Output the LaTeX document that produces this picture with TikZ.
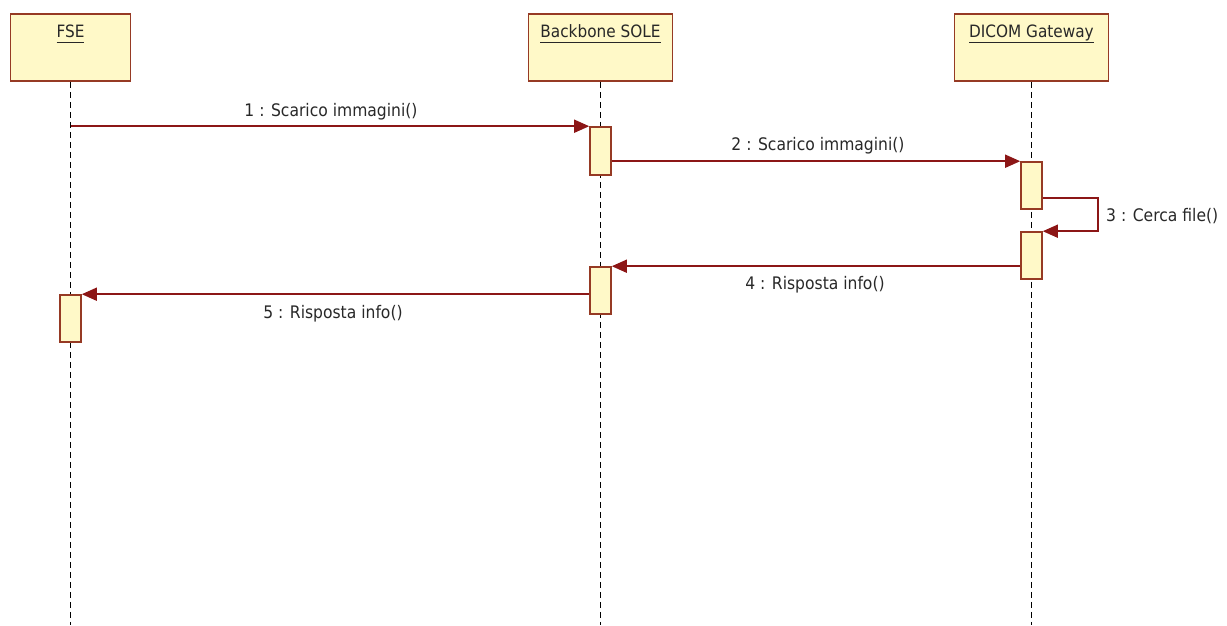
\documentclass[tikz,border=0pt]{standalone}
\usepackage{fontspec}
\setmainfont{DejaVu Sans Condensed}
\usetikzlibrary{arrows.meta}
\definecolor{boxborder}{RGB}{150,58,36}
\definecolor{boxfill}{RGB}{255,249,200}
\definecolor{msgcol}{RGB}{140,22,22}
\definecolor{txtcol}{RGB}{40,40,40}
\tikzset{
  head/.style={draw=boxborder, fill=boxfill, line width=1.7pt, minimum height=67pt, inner sep=0pt},
  headtext/.style={text=txtcol, font=\fontsize{17}{20}\selectfont, inner sep=0pt, text height=13pt, text depth=5pt},
  actbox/.style={draw=boxborder, fill=boxfill, line width=1.6pt, minimum width=21pt, minimum height=47pt, inner sep=0pt},
  lifeline/.style={draw=black, line width=1.5pt, dash pattern=on 6pt off 4pt},
  msg/.style={draw=msgcol, line width=1.6pt, -{Triangle[length=15pt,width=13pt]}},
  msglabel/.style={text=txtcol, font=\fontsize{17.3}{20}\selectfont, inner sep=0pt}
}
\newcommand{\ul}[1]{\underline{\smash{#1}\vphantom{Ag}}}
\begin{document}
\begin{tikzpicture}[x=1pt,y=-1pt]
\useasboundingbox (0,0) rectangle (1227,625);
% heads
\node[head, minimum width=120pt] (fse) at (70.5,47.5) {};
\node[head, minimum width=144pt] (sole) at (600.5,47.5) {};
\node[head, minimum width=154pt] (dicom) at (1031.5,47.5) {};
\node[headtext] (fseT) at ([yshift=-20pt]fse.north) {\ul{FSE}};
\node[headtext] (soleT) at ([yshift=-20pt]sole.north) {\ul{Backbone SOLE}};
\node[headtext] (dicomT) at ([yshift=-20pt]dicom.north) {\ul{DICOM Gateway}};
% lifeline ends
\coordinate (fseE) at (70.5,625);
\coordinate (soleE) at (600.5,625);
\coordinate (dicomE) at (1031.5,625);
\draw[lifeline] (fse.south) -- (fseE);
\draw[lifeline] (sole.south) -- (soleE);
\draw[lifeline] (dicom.south) -- (dicomE);
% activations
\node[actbox, minimum height=48pt] (b1) at (600.5,151) {};
\node[actbox] (d1) at (1031.5,185.5) {};
\node[actbox] (d2) at (1031.5,255.5) {};
\node[actbox] (b2) at (600.5,290.5) {};
\node[actbox] (f1) at (70.5,318.5) {};
% messages
\draw[msg] (fse.south |- b1.north west) -- (b1.north west);
\draw[msg] (d1.north west -| b1.east) -- (d1.north west);
\draw[msg] ([yshift=12pt]d1.south east) -- ++(55,0) |- (d2.north east);
\draw[msg] (b2.north east -| d2.west) -- (b2.north east);
\draw[msg] (f1.north east -| b2.west) -- (f1.north east);
% labels
\node[msglabel] (l1) at (331,112) {1 : Scarico immagini()};
\node[msglabel] (l2) at (818,146) {2 : Scarico immagini()};
\node[msglabel, anchor=west] (l3) at (1106,216) {3 : Cerca file()};
\node[msglabel] (l4) at (815,285) {4 : Risposta info()};
\node[msglabel] (l5) at (333,314) {5 : Risposta info()};
\end{tikzpicture}
\end{document}
